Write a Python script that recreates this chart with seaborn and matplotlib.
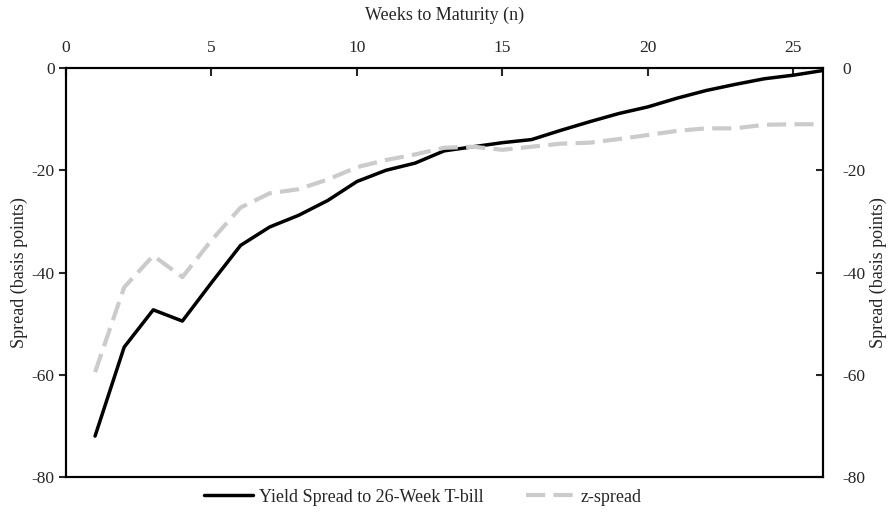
import matplotlib
matplotlib.use("Agg")
import matplotlib.pyplot as plt
import seaborn as sns
import pandas as pd

weeks = list(range(1, 27))
yield_spread = [-72, -54.6, -47.3, -49.5, -42, -34.7, -31.1, -28.8, -25.9, -22.2,
                -20, -18.6, -16.2, -15.4, -14.6, -14.0, -12.2, -10.5, -8.9, -7.6,
                -5.9, -4.4, -3.2, -2.1, -1.4, -0.5]
z_spread = [-59.5, -42.9, -36.7, -40.9, -33.7, -27.3, -24.5, -23.7, -21.8, -19.4,
            -18, -16.9, -15.6, -15.4, -16.0, -15.4, -14.8, -14.6, -13.9, -13.1,
            -12.3, -11.8, -11.8, -11.1, -11.0, -11.0]

df = pd.DataFrame({"n": weeks, "yield": yield_spread, "z": z_spread})

sns.set_style("white")
plt.rcParams["font.family"] = ["Liberation Serif", "DejaVu Serif"]
plt.rcParams["axes.unicode_minus"] = False

fig = plt.figure(figsize=(8.89, 5.13), dpi=100)
ax = fig.add_axes([0.0742, 0.0702, 0.851, 0.7972])

sns.lineplot(data=df, x="n", y="yield", ax=ax, color="black", linewidth=2.5,
             label="Yield Spread to 26-Week T-bill")
sns.lineplot(data=df, x="n", y="z", ax=ax, color="#cbcbcb", linewidth=3,
             label="z-spread")
ax.lines[1].set_dashes([4.6, 2.0])

ax.set_xlim(0, 26)
ax.set_ylim(-80, 0)
ax.set_xticks([0, 5, 10, 15, 20, 25])
ax.set_yticks([0, -20, -40, -60, -80])
ax.xaxis.tick_top()
ax.xaxis.set_label_position("top")
ax.set_xlabel("Weeks to Maturity (n)", fontsize=13, labelpad=14)
ax.set_ylabel("Spread (basis points)", fontsize=13, labelpad=3)
ax.tick_params(axis="x", direction="in", length=6, width=1.5, labelsize=12.5, pad=9)
ax.tick_params(axis="y", direction="out", length=5, width=1.5, labelsize=12.5, pad=3)
for s in ax.spines.values():
    s.set_linewidth(1.5)
    s.set_color("black")

ax2 = ax.twinx()
ax2.set_ylim(-80, 0)
ax2.set_yticks([0, -20, -40, -60, -80])
ax2.tick_params(axis="y", direction="in", length=5, width=1.5, labelsize=12.5, pad=14)
ax2.set_ylabel("Spread (basis points)", fontsize=13, labelpad=3)
for s in ax2.spines.values():
    s.set_linewidth(1.5)
    s.set_color("black")

ax.legend(loc="upper center", bbox_to_anchor=(0.472, -0.002), ncol=2, frameon=False,
          fontsize=13, handlelength=2.7, handletextpad=0.35, columnspacing=2.3,
          borderaxespad=0.2)

fig.savefig("out.png", dpi=100)
